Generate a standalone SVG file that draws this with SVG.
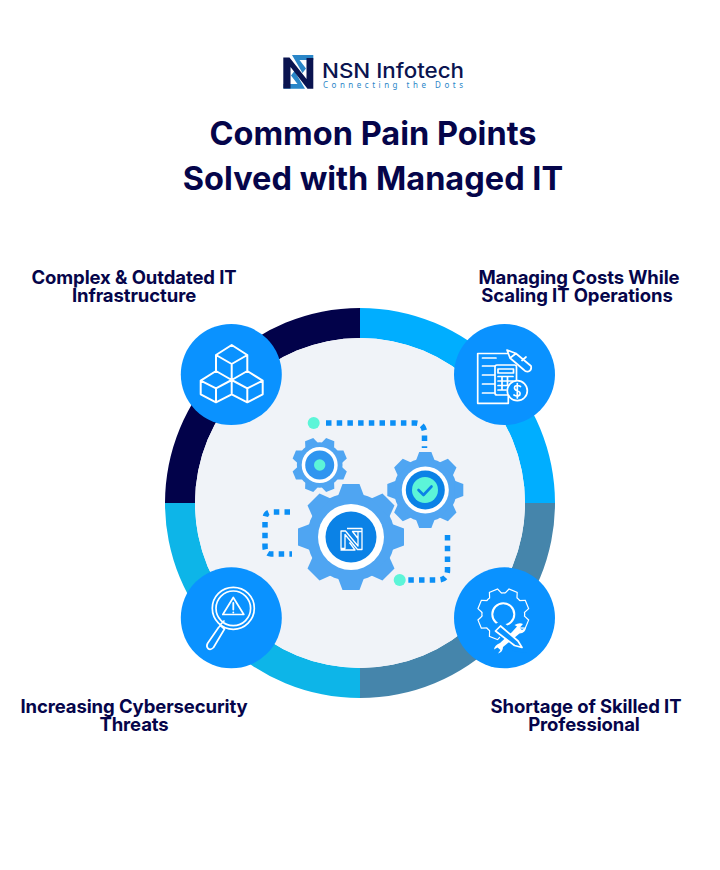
<svg xmlns="http://www.w3.org/2000/svg" width="720" height="870" viewBox="0 0 720 870">
<style>
.t{font-family:Inter,"Liberation Sans",sans-serif;font-weight:700;fill:#05054a;text-anchor:middle}
.title{font-size:32.5px}
.lab{font-size:18.5px;letter-spacing:-.1px}
.dot{fill:none;stroke:#0b8ff5;stroke-width:5.5;stroke-dasharray:5.5 5.2}
.ic{fill:none;stroke:#fff;stroke-width:1.7;stroke-linejoin:round;stroke-linecap:round}
.bub{fill:#0a92ff}
.g{fill:#4fa5f2}
.mint{fill:#5cf5d8}
</style>
<defs>
<g id="gear">
<circle r="44"/>
<g id="t4"><path d="M-13-41 L-8.500-53 H8.500 L13-41Z"/><path d="M-13-41 L-8.500-53 H8.500 L13-41Z" transform="rotate(45)"/><path d="M-13-41 L-8.500-53 H8.500 L13-41Z" transform="rotate(90)"/><path d="M-13-41 L-8.500-53 H8.500 L13-41Z" transform="rotate(135)"/></g>
<use href="#t4" transform="rotate(180)"/>
</g>
</defs>
<rect width="720" height="870" fill="#fff"/>

<g id="logo">
<path d="M292 55H313.300V60H299.500L306 68.500L302.500 73ZM283.500 84H297.500L291 75.500L294.500 71L305 88.800H283.500Z" fill="#2a86c8"/>
<path d="M283.300 57.500H289.500L306.500 79V58H313.300V88.800H307.500L290.500 67V88.500H283.300Z" fill="#0a1450"/>
<text x="322" y="77.500" font-family="Inter,'Noto Sans',sans-serif" font-size="20.500" font-weight="500" fill="#0a1450" textLength="142" lengthAdjust="spacingAndGlyphs">NSN Infotech</text>
<text x="323" y="87.600" font-family="'Noto Sans',sans-serif" font-size="8" fill="#2a86c8" textLength="140" lengthAdjust="spacing">Connecting the Dots</text>
</g>

<g id="title">
<text class="t title" x="373" y="144.500">Common Pain Points</text>
<text class="t title" x="373" y="189.500">Solved with Managed IT</text>
</g>

<g id="ring">
<path d="M360 308A195 195 0 0 0 165 503H195A165 165 0 0 1 360 338Z" fill="#02024a"/>
<path d="M360 308A195 195 0 0 1 555 503H525A165 165 0 0 0 360 338Z" fill="#00aeff"/>
<path d="M555 503A195 195 0 0 1 360 698V668A165 165 0 0 0 525 503Z" fill="#4585ab"/>
<path d="M360 698A195 195 0 0 1 165 503H195A165 165 0 0 0 360 668Z" fill="#0db5e8"/>
<circle cx="360" cy="503" r="165" fill="#f0f3f8"/>
</g>

<g id="connectors">
<path class="dot" d="M326 423H415Q423 423 424.500 431V448"/>
<path class="dot" d="M290 512H271Q265 512 265 520V546Q265 554 271 554H292"/>
<path class="dot" d="M447.500 535V570Q447.500 580 438 580H408"/>
<circle class="mint" cx="313.700" cy="423" r="6"/>
<circle class="mint" cx="399.700" cy="580" r="6"/>
</g>

<g id="gear-small">
<use href="#gear" class="g" transform="translate(319.700 465) rotate(22.500) scale(.519)"/>
<circle cx="319.700" cy="465" r="18" fill="#fff"/>
<circle cx="319.700" cy="465" r="14.500" fill="#2f95f0"/>
<circle class="mint" cx="319.700" cy="465" r="5.700"/>
</g>
<g id="gear-medium">
<use href="#gear" class="g" transform="translate(425.300 490) scale(.717)"/>
<circle cx="425.300" cy="490" r="23.500" fill="#fff"/>
<circle cx="425.300" cy="490" r="19.500" fill="#0b82e6"/>
<circle class="mint" cx="425" cy="490" r="13"/>
<path d="M418.500 490L423.500 495L431.500 486.500" fill="none" stroke="#0b82e6" stroke-width="2.600" stroke-linecap="round" stroke-linejoin="round"/>
</g>
<g id="gear-large">
<use href="#gear" class="g" transform="translate(351 537)"/>
<circle cx="351" cy="537" r="33" fill="#fff"/>
<circle cx="351" cy="537" r="25.500" fill="#0b82e6"/>
<path d="M341 531H345.500L358 546V531.500H362V549.500H357.500L345 534.500V548.500H341Z M347 528.500H362V531.500H352.500L358 538.500 M340.500 550H355L349.500 542.500" fill="none" stroke="#fff" stroke-width="1.300" stroke-linejoin="round"/>
</g>

<g id="node-infrastructure">
<circle class="bub" cx="231.300" cy="374.500" r="50.500"/>
<path class="ic" style="stroke-width:2" d="M231.700 345L247.300 355V371L231.700 380L216 371V355ZM216 355L231.700 364L247.300 355M231.700 364V380M216 371L200.700 380.700V394.300L216 402.300L231.700 394.300V378M200.700 380.700L216 388.300L231.700 380M216 388.300V402.300M247.300 371L262.700 380.700V394.300L247.300 402.300L231.700 394.300M231.700 380L247.300 388.300L262.700 380.700M247.300 388.300V402.300"/>
<text class="t lab" x="134" y="284">Complex &amp; Outdated IT</text>
<text class="t lab" x="134" y="302">Infrastructure</text>
</g>

<g id="node-costs">
<circle class="bub" cx="504.500" cy="374.500" r="50.500"/>
<path class="ic" d="M508.300 353.500H477.700V403.300H508.300V395.500M482.500 358H496M482.500 366H494.500M482.500 375H494.500M482.500 384H494.500M482.500 393H494.500"/>
<rect class="ic" x="495" y="365" width="21.500" height="30" rx="2"/>
<path class="ic" d="M498 369H513.500V373H498ZM498 376.500H513M498 381H513M498 385.500H509M498 390H506M502 376.500V390M507.500 376.500V385.500"/>
<circle cx="517.300" cy="390.700" r="10" class="bub" stroke="#fff" stroke-width="1.700"/>
<path class="ic" d="M520.500 386.500Q517.300 384.500 514.800 386.500Q513.500 389.500 517.300 390.700Q521 392 519.800 395Q517 397 514 395M517.300 383.500V398"/>
<path class="ic" d="M507 350L516 353.500L531 366Q532 370 528.500 371.500Q525.500 372 524 370L510 358ZM510 358L516 353.500M522 360.500L526 357"/>
<text class="t lab" x="579" y="284">Managing Costs While</text>
<text class="t lab" x="577" y="302">Scaling IT Operations</text>
</g>

<g id="node-security">
<circle class="bub" cx="231.300" cy="617.800" r="50.500"/>
<circle class="ic" cx="233.300" cy="608.300" r="21"/>
<circle class="ic" cx="233.300" cy="608.300" r="17.300"/>
<path class="ic" d="M220.500 625.500L224.500 629L213.500 647.500Q210.500 650.500 208 648.500Q206 646.500 207.500 643.500L218.500 627.500ZM220 625L224 621"/>
<path class="ic" d="M233.300 597.500L243.800 614.500H222.800Z"/>
<path class="ic" d="M233.300 603V609.500M233.300 612.300V612.600" style="stroke-width:1.800"/>
<text class="t lab" x="134" y="713">Increasing Cybersecurity</text>
<text class="t lab" x="134" y="731">Threats</text>
</g>

<g id="node-staff">
<circle class="bub" cx="504.500" cy="617.800" r="50.500"/>
<use href="#gear" transform="translate(503.300 614.300) rotate(22.500) scale(.472)" fill="#fff" stroke="#fff" stroke-width="5"/>
<use href="#gear" transform="translate(503.300 614.300) rotate(22.500) scale(.472)" fill="#0a92ff"/>
<circle class="ic" cx="503.300" cy="614.300" r="11" style="stroke-width:2"/>
<path d="M493 628L501 622L525 643L525 651L515 650Z" fill="#0a92ff" stroke="#0a92ff" stroke-width="3"/>
<path d="M512 632L517 626.500L514.500 625Q519.500 622 523 624L519.500 628L522 630L526 627.500Q525.500 633 519.500 633.500L503 647Q503 652 498 653.500L500.500 650L497.500 647.500L494 649.500Q494.500 645 500 643Z" fill="#fff"/>
<path d="M495.500 631L500.500 626L518 641L522 647.500L514.500 645.500Z" fill="#0a92ff" stroke="#fff" stroke-width="1.700" stroke-linejoin="round"/>
<text class="t lab" x="586" y="713">Shortage of Skilled IT</text>
<text class="t lab" x="584" y="731">Professional</text>
</g>
</svg>
